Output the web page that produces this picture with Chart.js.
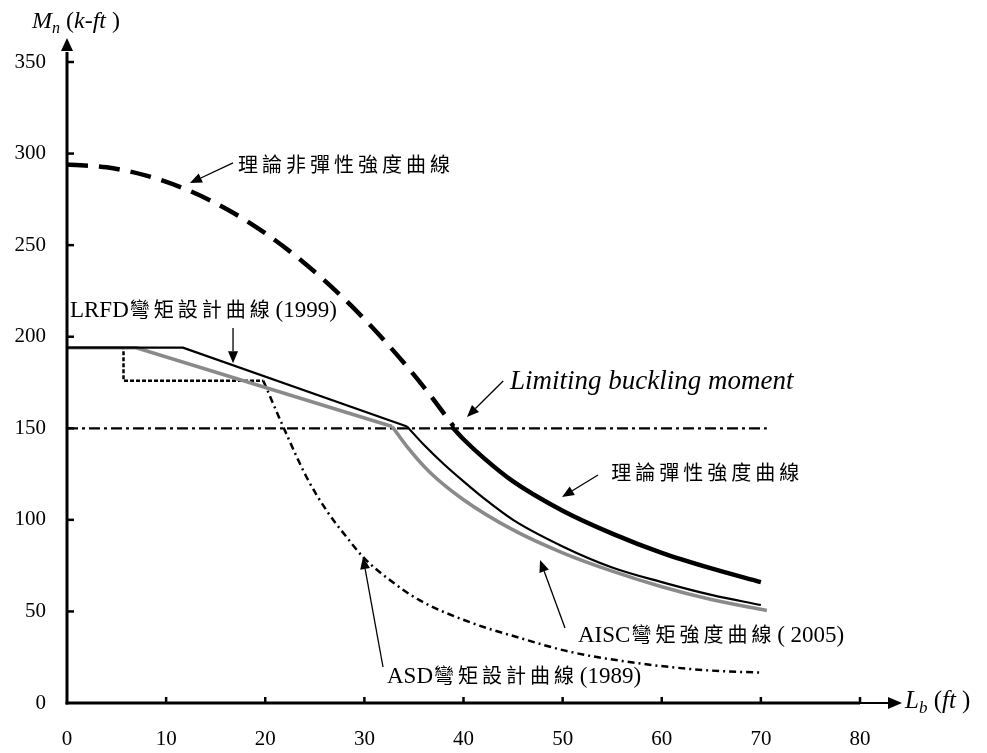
<!DOCTYPE html>
<html>
<head>
<meta charset="utf-8">
<script src="https://cdn.jsdelivr.net/npm/chart.js@4/dist/chart.umd.min.js"></script>
<style>
html,body{margin:0;padding:0;background:#fff;}
canvas{display:block;}
</style>
</head>
<body>
<canvas id="c" width="987" height="753"></canvas>
<script>
// ---- Data ----
const xTickValues = [0, 10, 20, 30, 40, 50, 60, 70, 80];
const yTickValues = [0, 50, 100, 150, 200, 250, 300, 350];

// Theoretical inelastic strength curve (dashed)
const inelX = [0, 4, 8, 12, 16, 20, 24, 28, 32, 36, 39];
const inelY = [294, 292.5, 288, 280.5, 270, 256.5, 240, 220.5, 198, 172.5, 151];

// Theoretical elastic strength curve (thick solid)
const elasX = [38.8, 40, 42, 45, 50, 55, 60, 65, 70];
const elasY = [151, 144, 134, 121, 105, 92.5, 82, 73.5, 66];

// LRFD 1999 (thin black)
const lrfdLinX = [0, 11.7, 34.3];
const lrfdLinY = [194, 194, 151];
const lrfdCurX = [34.3, 36, 38, 40, 42, 45, 50, 55, 60, 65, 70];
const lrfdCurY = [151, 141, 130.5, 121, 112, 100, 85.5, 74, 66, 59, 53.5];

// AISC 2005 (gray)
const aiscLinX = [0, 7, 32.8];
const aiscLinY = [194, 194, 151];
const aiscCurX = [32.8, 34.3, 36.6, 40, 45, 50, 55, 60, 65, 70.6];
const aiscCurY = [151, 140, 126, 111, 94.5, 82, 72, 63.5, 56.5, 50.5];

// ASD 1989 (dotted step + dash-dot curve)
const asdStepX = [0, 5.7, 5.7, 19.8];
const asdStepY = [194, 194, 176, 176];
const asdCurX = [19.8, 21.8, 24.2, 26.2, 28, 30, 32.6, 35.6, 40.7, 45.7, 50.7, 57.5, 64.2, 70.2];
const asdCurY = [176, 151, 123, 105, 92, 79, 67, 56, 44, 35.5, 28, 21.8, 18, 16.5];

// Limiting buckling moment
const limX = [0, 70.6];
const limY = [150, 150];

const pts = (xs, ys) => xs.map((v, i) => ({x: v, y: ys[i]}));

const SERIF = '"Liberation Serif", "Times New Roman", serif';
const CJK = '"Noto Sans CJK TC", "Noto Sans CJK SC", sans-serif';

// Annotations: anchor positions in data coordinates
const annotations = [
  {x: 17.15, y: 290.2, segs: [{t: '理論非彈性強度曲線', cjk: true, pitch: 24}],
   arrow: [16.75, 294.9, 12.4, 283.9]},
  {x: 0.3, y: 210.8, segs: [{t: 'LRFD', lat: 23}, {t: '彎矩設計曲線', cjk: true, pitch: 24}, {t: ' (1999)', lat: 23}],
   arrow: [16.75, 204.8, 16.75, 185.5]},
  {x: 44.7, y: 171.5, segs: [{t: 'Limiting buckling moment', lat: 27, italic: true}],
   arrow: [44.0, 175.8, 40.35, 156.2]},
  {x: 54.8, y: 122.0, segs: [{t: '理論彈性強度曲線', cjk: true, pitch: 24}],
   arrow: [53.57, 124.5, 49.94, 112.5]},
  {x: 51.55, y: 33.3, segs: [{t: 'AISC', lat: 23}, {t: '彎矩強度曲線', cjk: true, pitch: 24}, {t: ' ( 2005)', lat: 23}],
   arrow: [50.24, 40.95, 47.72, 78.1]},
  {x: 32.28, y: 10.9, segs: [{t: 'ASD', lat: 23}, {t: '彎矩設計曲線', cjk: true, pitch: 24}, {t: ' (1989)', lat: 23}],
   arrow: [31.88, 19.66, 29.86, 79.7]}
];

function drawSegs(ctx, x, y, segs) {
  ctx.textAlign = 'left';
  ctx.textBaseline = 'alphabetic';
  let cx = x;
  for (const s of segs) {
    const dy = s.dy || 0;
    if (s.cjk) {
      ctx.font = (s.size || 20) + 'px ' + CJK;
      for (const ch of s.t) {
        ctx.fillText(ch, cx + 1, y + dy);
        cx += s.pitch;
      }
      cx -= (s.pitch - 20) - 1;
    } else {
      ctx.font = (s.italic ? 'italic ' : '') + s.lat + 'px ' + SERIF;
      ctx.fillText(s.t, cx, y + dy);
      cx += ctx.measureText(s.t).width;
    }
  }
}

function arrow(ctx, x1, y1, x2, y2, lw, head, hw) {
  const a = Math.atan2(y2 - y1, x2 - x1);
  const bx = x2 - head * Math.cos(a), by = y2 - head * Math.sin(a);
  ctx.lineWidth = lw;
  ctx.beginPath(); ctx.moveTo(x1, y1); ctx.lineTo(bx, by); ctx.stroke();
  ctx.beginPath();
  ctx.moveTo(x2, y2);
  ctx.lineTo(bx + hw * Math.sin(a), by - hw * Math.cos(a));
  ctx.lineTo(bx - hw * Math.sin(a), by + hw * Math.cos(a));
  ctx.closePath(); ctx.fill();
}

const overlay = {
  id: 'overlay',
  afterDraw(chart) {
    const ctx = chart.ctx;
    const xs = chart.scales.x, ys = chart.scales.y;
    const X = v => xs.getPixelForValue(v), Y = v => ys.getPixelForValue(v);
    ctx.save();
    ctx.strokeStyle = '#000'; ctx.fillStyle = '#000';
    const x0 = X(0), y0 = Y(0), yTop = Y(350), xEnd = X(80);
    // y axis
    ctx.lineWidth = 3;
    ctx.beginPath(); ctx.moveTo(x0, y0 + 1.5); ctx.lineTo(x0, yTop - 10); ctx.stroke();
    ctx.beginPath(); ctx.moveTo(x0, yTop - 24); ctx.lineTo(x0 - 6, yTop - 11); ctx.lineTo(x0 + 6, yTop - 11); ctx.closePath(); ctx.fill();
    // x axis
    ctx.beginPath(); ctx.moveTo(x0 - 1.5, y0); ctx.lineTo(xEnd, y0); ctx.stroke();
    ctx.lineWidth = 2;
    ctx.beginPath(); ctx.moveTo(xEnd, y0); ctx.lineTo(xEnd + 30, y0); ctx.stroke();
    ctx.beginPath(); ctx.moveTo(xEnd + 42, y0); ctx.lineTo(xEnd + 28, y0 - 6); ctx.lineTo(xEnd + 28, y0 + 6); ctx.closePath(); ctx.fill();
    // ticks (inward)
    ctx.lineWidth = 2.5;
    for (const v of xTickValues) { if (v === 0) continue; ctx.beginPath(); ctx.moveTo(X(v), y0); ctx.lineTo(X(v), y0 - 6); ctx.stroke(); }
    for (const v of yTickValues) { if (v === 0) continue; ctx.beginPath(); ctx.moveTo(x0, Y(v)); ctx.lineTo(x0 + 7, Y(v)); ctx.stroke(); }

    // axis titles
    drawSegs(ctx, x0 - 35, yTop - 34, [
      {t: 'M', lat: 24, italic: true},
      {t: 'n', lat: 16, italic: true, dy: 5},
      {t: ' (', lat: 24},
      {t: 'k-ft', lat: 24, italic: true},
      {t: ' )', lat: 24}
    ]);
    drawSegs(ctx, xEnd + 45, y0 + 5, [
      {t: 'L', lat: 25, italic: true},
      {t: 'b', lat: 17, italic: true, dy: 5},
      {t: ' (', lat: 25},
      {t: 'ft', lat: 25, italic: true},
      {t: ' )', lat: 25}
    ]);

    // annotations
    for (const a of annotations) {
      drawSegs(ctx, X(a.x), Y(a.y), a.segs);
      const [ax1, ay1, ax2, ay2] = a.arrow;
      arrow(ctx, X(ax1), Y(ay1), X(ax2), Y(ay2), 1.3, 12, 5);
    }
    ctx.restore();
  }
};

const line = (data, color, width, dash, order, mono) => ({
  data, borderColor: color, borderWidth: width, borderDash: dash || [],
  pointRadius: 0, fill: false, order,
  tension: 0, cubicInterpolationMode: mono ? 'monotone' : 'default'
});

new Chart(document.getElementById('c'), {
  type: 'line',
  data: {
    datasets: [
      line(pts(elasX, elasY), '#000', 4.5, null, 1, true),
      line(pts(inelX, inelY), '#000', 4.5, [21, 11], 2, true),
      line(pts(lrfdLinX, lrfdLinY), '#000', 2.2, null, 3, false),
      line(pts(lrfdCurX, lrfdCurY), '#000', 2.2, null, 3, true),
      line(pts(aiscLinX, aiscLinY), '#8a8a8a', 3.6, null, 4, false),
      line(pts(aiscCurX, aiscCurY), '#8a8a8a', 3.6, null, 4, true),
      line(pts(limX, limY), '#000', 2.3, [11, 4, 3, 4], 5, false),
      line(pts(asdStepX, asdStepY), '#000', 2.5, [4, 2], 6, false),
      line(pts(asdCurX, asdCurY), '#000', 2.5, [7, 4, 2, 4], 6, true)
    ]
  },
  options: {
    responsive: false,
    animation: false,
    devicePixelRatio: 1,
    layout: {padding: {top: 62, right: 127, left: 0, bottom: 0}},
    plugins: {legend: {display: false}, tooltip: {enabled: false}},
    scales: {
      x: {
        type: 'linear', min: 0, max: 80,
        grid: {display: false, drawTicks: false},
        border: {display: false},
        afterFit: s => { s.height = 50; },
        afterBuildTicks: s => { s.ticks = xTickValues.map(v => ({value: v})); },
        ticks: {padding: 24, color: '#000', font: {family: SERIF, size: 21}, maxRotation: 0, autoSkip: false}
      },
      y: {
        type: 'linear', min: 0, max: 350,
        grid: {display: false, drawTicks: false},
        border: {display: false},
        afterFit: s => { s.width = 67; },
        afterBuildTicks: s => { s.ticks = yTickValues.map(v => ({value: v})); },
        ticks: {padding: 21, color: '#000', font: {family: SERIF, size: 21}, autoSkip: false}
      }
    }
  },
  plugins: [overlay]
});
</script>
</body>
</html>
